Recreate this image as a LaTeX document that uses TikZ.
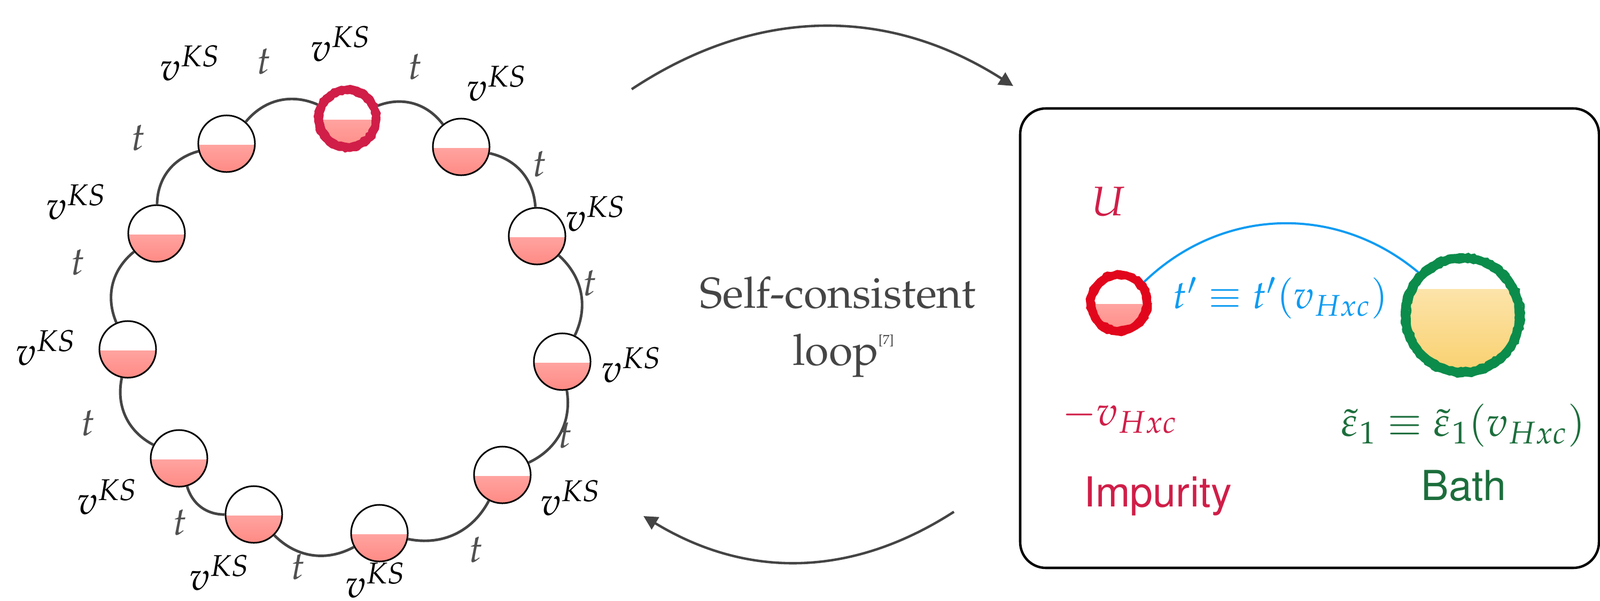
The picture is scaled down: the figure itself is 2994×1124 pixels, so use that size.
\documentclass[tikz,border=0pt]{standalone}
\usepackage[T1]{fontenc}
\usepackage{mathpazo}
\usepackage{helvet}
\usepackage{xcolor}
\usetikzlibrary{shapes.geometric, arrows.meta, positioning, decorations.pathmorphing, calc}
\definecolor{ringgray}{HTML}{444444}
\definecolor{tgray}{HTML}{505050}
\definecolor{loopgray}{HTML}{454545}
\definecolor{crimson}{HTML}{D01E48}
\definecolor{impred}{HTML}{E2061C}
\definecolor{bathgreen}{HTML}{0B8C4B}
\definecolor{gtext}{HTML}{1C6E3C}
\definecolor{tblue}{HTML}{0C9BF2}
\definecolor{pinktop}{HTML}{FFBEBE}
\definecolor{pinkbot}{HTML}{FF8A84}
\definecolor{bathtop}{HTML}{FDEBC2}
\definecolor{bathbot}{HTML}{F9D06C}

\begin{document}
\begin{tikzpicture}[
    x=0.01cm, y=-0.01cm,
    site/.style={circle, draw=black, line width=0.85pt, fill=white, minimum size=1.06cm, inner sep=0pt,
        path picture={\shade[top color=pinktop, bottom color=pinkbot] ([yshift=-0.02cm]path picture bounding box.west) rectangle (path picture bounding box.south east);}},
    impsite/.style={site, draw=none, minimum size=1.2cm},
    bathsite/.style={circle, fill=white, minimum size=2.28cm, inner sep=0pt,
        path picture={\shade[top color=bathtop, bottom color=bathbot] ([yshift=0.48cm]path picture bounding box.west) rectangle (path picture bounding box.south east);}},
    chalk/.style={line width=1.4pt, decorate, decoration={random steps, segment length=1.5pt, amplitude=0.45pt}},
    bond/.style={draw=ringgray, line width=1.4pt},
    hopping/.style={draw=tblue, line width=1.15pt},
    arrow/.style={draw=ringgray, line width=1.3pt, ->, >={Triangle[length=7.5pt, width=7.5pt]}},
    panel/.style={draw=black, line width=1.3pt, rounded corners=0.48cm},
    ks/.style={font=\fontsize{21}{25}\selectfont, inner sep=1pt},
    hop/.style={text=tgray, font=\fontsize{21}{25}\selectfont},
    boxmath/.style={font=\fontsize{22}{26}\selectfont},
    boxlabel/.style={font=\sffamily\fontsize{22}{26}\selectfont, anchor=base},
    looptext/.style={text=loopgray, font=\fontsize{23}{30}\selectfont, anchor=base}
]
    \useasboundingbox (0,0) rectangle (2994,1124);

    \node[impsite] (sA) at (650,222) {};
    \node[site] (sB) at (424,269) {};
    \node[site] (sC) at (863,275) {};
    \node[site] (sD) at (293,437) {};
    \node[site] (sE) at (1005,442) {};
    \node[site] (sF) at (239,654) {};
    \node[site] (sG) at (1052,677) {};
    \node[site] (sH) at (335,858) {};
    \node[site] (sI) at (940,889) {};
    \node[site] (sJ) at (475,963) {};
    \node[site] (sK) at (710,998) {};

    \foreach \a/\b in {sA/sC, sC/sE, sE/sG, sG/sI, sI/sK, sK/sJ, sJ/sH, sH/sF, sF/sD, sD/sB, sB/sA}
        \draw[bond] (\a) to[bend left=37] (\b);
    \draw[crimson, line width=3pt] (sA.center) circle[radius=0.535cm];
    \foreach \r in {0.475,0.505,0.535,0.565,0.595}
        \draw[chalk, crimson] (sA.center) circle[radius=\r cm];

    \node[ks] (ksA) at (638,82) {$v^{KS}$};
    \node[ks] (ksB) at (356,118) {$v^{KS}$};
    \node[ks] (ksC) at (930,156) {$v^{KS}$};
    \node[ks] (ksD) at (143,378) {$v^{KS}$};
    \node[ks] (ksE) at (1115,400) {$v^{KS}$};
    \node[ks] (ksF) at (86,651) {$v^{KS}$};
    \node[ks] (ksG) at (1182,683) {$v^{KS}$};
    \node[ks] (ksH) at (201,930) {$v^{KS}$};
    \node[ks] (ksI) at (1068,932) {$v^{KS}$};
    \node[ks] (ksJ) at (411,1072) {$v^{KS}$};
    \node[ks] (ksK) at (703,1086) {$v^{KS}$};

    \node[hop] (tBA) at (494,115) {$t$};
    \node[hop] (tAC) at (777,125) {$t$};
    \node[hop] (tDB) at (259,258) {$t$};
    \node[hop] (tCE) at (1010,307) {$t$};
    \node[hop] (tFD) at (146,491) {$t$};
    \node[hop] (tEG) at (1104,530) {$t$};
    \node[hop] (tHF) at (165,792) {$t$};
    \node[hop] (tGI) at (1058,815) {$t$};
    \node[hop] (tJH) at (337,978) {$t$};
    \node[hop] (tIK) at (891,1029) {$t$};
    \node[hop] (tKJ) at (558,1061) {$t$};

    \node[looptext] (selftxt) at (1568,576) {Self-consistent};
    \node[looptext] (looptxt) at (1578,683) {loop\raisebox{11pt}{\fontsize{7}{7}\selectfont[7]}};
    \coordinate (topstart) at (1182,167);
    \coordinate (topend) at (1896,161);
    \coordinate (botstart) at (1785,958);
    \coordinate (botend) at (1204,966);
    \draw[arrow] (topstart) to[bend left=33] (topend);
    \draw[arrow] (botstart) to[bend left=32] (botend);

    \draw[panel] (1909,203) rectangle (2992,1063);
    \node[impsite] (imp) at (2094,567) {};
    \node[bathsite] (bath) at (2737,590) {};
    \draw[hopping] (imp) to[bend left=42] (bath);
    \draw[impred, line width=3pt] (imp.center) circle[radius=0.525cm];
    \foreach \r in {0.465,0.495,0.525,0.555,0.585}
        \draw[chalk, impred] (imp.center) circle[radius=\r cm];
    \draw[bathgreen, line width=3pt] (bath.center) circle[radius=1.07cm];
    \foreach \r in {1.0,1.035,1.07,1.105,1.135}
        \draw[chalk, bathgreen] (bath.center) circle[radius=\r cm];

    \node[boxmath, text=crimson] (Ulab) at (2074,377) {$U$};
    \node[boxmath, text=tblue, font=\fontsize{21}{25}\selectfont] (hoplab) at (2396,558) {$t' \equiv t'(v_{Hxc})$};
    \node[boxmath, text=crimson] (vlab) at (2095,780) {$-v_{Hxc}$};
    \node[boxmath, text=gtext] (epslab) at (2738,796) {$\tilde{\varepsilon}_1 \equiv \tilde{\varepsilon}_1(v_{Hxc})$};
    \node[boxlabel, text=crimson] (imptxt) at (2167,948) {Impurity};
    \node[boxlabel, text=gtext] (bathtxt) at (2739,936) {Bath};
\end{tikzpicture}
\end{document}
